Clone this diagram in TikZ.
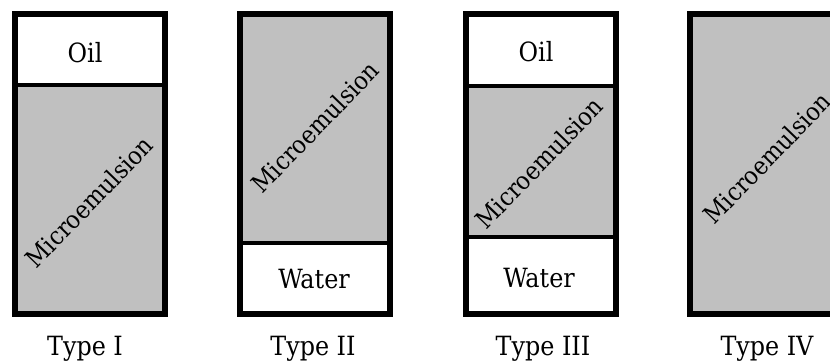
\documentclass[tikz,border=0pt]{standalone}
\usepackage{fontspec}
\setmainfont{DejaVu Serif Condensed}
\definecolor{gelgray}{RGB}{192,192,192}
\begin{document}
\begin{tikzpicture}[x=1pt,y=1pt,
  tube/.style={draw=black,line width=6pt},
  sep/.style={draw=black,line width=3.5pt},
  gel/.style={fill=gelgray},
  lbl/.style={font=\fontsize{26.5}{29}\selectfont,inner sep=0pt,anchor=base},
  micro/.style={font=\fontsize{25}{28}\selectfont,inner sep=0pt,rotate=46}]
\useasboundingbox (0,0) rectangle (830,362);
\clip (0,0) rectangle (830,362);

% Type I: oil on top of the microemulsion
\fill[gel] (15,48.5) rectangle (165,277);
\draw[sep] (15,277) -- (165,277);
\draw[tube] (15,48.5) rectangle (165,347.5);
\node[lbl] (oil1) at (85,299) {Oil};
\node[micro] (me1) at (89,160) {Microemulsion};
\node[lbl] (t1) at (85,7) {Type I};

% Type II: microemulsion above water
\fill[gel] (240,119) rectangle (390,347.5);
\draw[sep] (240,119) -- (390,119);
\draw[tube] (240,48.5) rectangle (390,347.5);
\node[lbl] (wat2) at (314,74) {Water};
\node[micro] (me2) at (315,235) {Microemulsion};
\node[lbl] (t2) at (313,7) {Type II};

% Type III: three phases
\fill[gel] (466,125) rectangle (616,276);
\draw[sep] (466,276) -- (616,276);
\draw[sep] (466,125) -- (616,125);
\draw[tube] (466,48.5) rectangle (616,347.5);
\node[lbl] (oil3) at (536,300) {Oil};
\node[micro] (me3) at (539,199) {Microemulsion};
\node[lbl] (wat3) at (539,75) {Water};
\node[lbl] (t3) at (543,7) {Type III};

% Type IV: a single microemulsion phase
\fill[gel] (690,48.5) rectangle (840,347.5);
\draw[tube] (690,48.5) rectangle (840,347.5);
\node[micro] (me4) at (767,204) {Microemulsion};
\node[lbl] (t4) at (767,7) {Type IV};
\end{tikzpicture}
\end{document}
